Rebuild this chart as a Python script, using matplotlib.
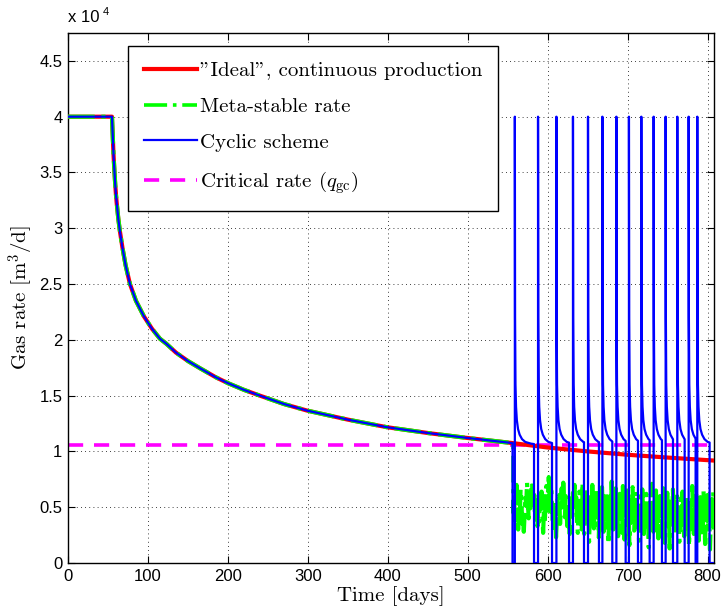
import numpy as np
import matplotlib
matplotlib.use("Agg")
import matplotlib.pyplot as plt
from matplotlib.lines import Line2D

plt.rcParams["mathtext.fontset"] = "cm"

# ---- data (rates in units of 1e4 m3/d) ----
ideal_t = [0, 55, 56, 57, 58, 59, 60, 61, 62, 63, 65, 68, 72, 77.5, 85, 95, 105, 115,
           123, 135, 150, 165, 185, 200, 220, 240, 270, 299, 350, 399, 450, 498, 557,
           600, 650, 700, 750, 808]
ideal_q = [4.0, 4.0, 3.82, 3.65, 3.52, 3.4, 3.3, 3.22, 3.15, 3.08, 2.97, 2.83, 2.67, 2.5,
           2.35, 2.21, 2.10, 2.01, 1.965, 1.886, 1.81, 1.746, 1.664, 1.612, 1.552, 1.5,
           1.425, 1.366, 1.285, 1.217, 1.165, 1.122, 1.074, 1.035, 1.0, 0.97, 0.945, 0.918]

crit_q = 1.06

# meta-stable rate after the switch, one value per day from t = 557
meta_start = 557
meta_q = [0.45, 0.62, 0.38, 0.55, 0.70, 0.48, 0.30, 0.52, 0.41, 0.66,
          0.58, 0.35, 0.47, 0.28, 0.44, 0.60, 0.51, 0.72, 0.55, 0.40,
          0.63, 0.49, 0.68, 0.57, 0.74, 0.52, 0.61, 0.39, 0.56, 0.46,
          0.33, 0.50, 0.37, 0.59, 0.45, 0.64, 0.42, 0.27, 0.48, 0.36,
          0.55, 0.69, 0.47, 0.62, 0.77, 0.58, 0.43, 0.65, 0.50, 0.38,
          0.54, 0.31, 0.46, 0.23, 0.40, 0.57, 0.44, 0.61, 0.35, 0.52,
          0.67, 0.49, 0.72, 0.56, 0.41, 0.60, 0.47, 0.33, 0.53, 0.42,
          0.26, 0.45, 0.58, 0.39, 0.63, 0.51, 0.70, 0.46, 0.59, 0.37,
          0.27, 0.47, 0.64, 0.39, 0.58, 0.30, 0.72, 0.49, 0.26, 0.61,
          0.44, 0.67, 0.37, 0.55, 0.19, 0.46, 0.63, 0.41, 0.70, 0.48,
          0.31, 0.59, 0.42, 0.66, 0.34, 0.53, 0.23, 0.45, 0.62, 0.38,
          0.68, 0.47, 0.28, 0.56, 0.43, 0.64, 0.35, 0.51, 0.17, 0.44,
          0.60, 0.39, 0.73, 0.50, 0.30, 0.57, 0.41, 0.67, 0.33, 0.54,
          0.24, 0.45, 0.62, 0.37, 0.56, 0.27, 0.69, 0.46, 0.21, 0.58,
          0.42, 0.65, 0.35, 0.53, 0.16, 0.44, 0.61, 0.38, 0.68, 0.46,
          0.29, 0.57, 0.40, 0.64, 0.32, 0.51, 0.20, 0.43, 0.60, 0.36,
          0.66, 0.45, 0.26, 0.54, 0.41, 0.62, 0.33, 0.49, 0.14, 0.42,
          0.58, 0.37, 0.71, 0.48, 0.28, 0.55, 0.39, 0.65, 0.31, 0.52,
          0.22, 0.43, 0.60, 0.35, 0.54, 0.25, 0.67, 0.44, 0.18, 0.56,
          0.40, 0.63, 0.33, 0.51, 0.13, 0.42, 0.59, 0.36, 0.66, 0.44,
          0.27, 0.55, 0.38, 0.62, 0.30, 0.49, 0.19, 0.41, 0.58, 0.34,
          0.64, 0.43, 0.24, 0.52, 0.39, 0.60, 0.31, 0.47, 0.15, 0.40,
          0.57, 0.35, 0.69, 0.46, 0.26, 0.53, 0.37, 0.63, 0.29, 0.50,
          0.20, 0.42, 0.59, 0.34, 0.52, 0.23, 0.65, 0.42, 0.17, 0.54,
          0.38, 0.61, 0.31, 0.49, 0.12, 0.40, 0.57, 0.34, 0.64, 0.30]

# cyclic scheme: re-open / shut-in times [days]
first_off = 556
cycle_on = [558.9, 587.9, 610.9, 631.6, 650.4, 668.4, 685.9, 701.6, 717.1, 732.5,
            747.5, 762.1, 776.3, 787.1]
cycle_off = [582.9, 605.4, 626.7, 645.4, 664.1, 680.8, 697.5, 712.9, 727.5, 742.9,
             756.7, 771.3, 785.0, 802.5]
# rate decay after re-opening (days after opening, rate)
decay_dt = [0, 0.3, 0.8, 1.5, 2.5, 4, 6, 9, 13, 20, 30]
decay_q = [4.0, 2.2, 1.6, 1.4, 1.28, 1.2, 1.15, 1.11, 1.085, 1.07, 1.06]

t_end = 808
scale = 1e4


def cyclic_curve():
    keep = [i for i, x in enumerate(ideal_t) if x < first_off]
    t = [ideal_t[i] for i in keep] + [first_off, first_off]
    q = [ideal_q[i] for i in keep] + [np.interp(first_off, ideal_t, ideal_q), 0]
    for on, off in zip(cycle_on, cycle_off):
        t.append(on)
        q.append(0)
        for dt, v in zip(decay_dt, decay_q):
            if dt < off - on:
                t.append(on + dt)
                q.append(v)
        t += [off, off]
        q += [np.interp(off - on, decay_dt, decay_q), 0]
    t.append(t_end)
    q.append(0)
    return np.array(t), np.array(q)


def meta_curve():
    keep = [i for i, x in enumerate(ideal_t) if x < meta_start]
    t = [ideal_t[i] for i in keep] + [meta_start]
    q = [ideal_q[i] for i in keep] + [np.interp(meta_start, ideal_t, ideal_q)]
    t += list(np.linspace(meta_start, t_end, len(meta_q)))
    q += meta_q
    return np.array(t), np.array(q)


fig = plt.figure(figsize=(7.21, 6.12), dpi=100)
ax = fig.add_axes([68 / 721, 49 / 612, 646 / 721, 530 / 612])

crit_style = (0, (4.2, 3.0))
ax.plot([0, t_end], [crit_q * scale] * 2, color="#ff00ff", lw=2.6, ls=crit_style, zorder=2)
ax.plot(np.array(ideal_t), np.array(ideal_q) * scale, color="#ff0000", lw=3.0, zorder=3)
mt, mq = meta_curve()
ax.plot(mt, mq * scale, color="#00ff00", lw=3.0, ls="-.", zorder=4)
ct, cq = cyclic_curve()
ax.plot(ct, cq * scale, color="#0000ff", lw=1.6, zorder=5)

ax.set_xlim(0, t_end)
ax.set_ylim(0, 4.75e4)
ax.set_xticks(np.arange(0, 801, 100))
ax.set_xticklabels([str(v) for v in range(0, 801, 100)], family="Liberation Sans", fontsize=12)
yt = np.arange(0, 4.51e4, 5000)
ax.set_yticks(yt)
ax.set_yticklabels(["%g" % (v / 1e4) for v in yt], family="Liberation Sans", fontsize=12)
ax.tick_params(direction="in", top=True, right=True, length=5, width=0.8, pad=4)
ax.grid(True, color="k", ls=(0, (1, 4)), lw=0.6)
for s in ax.spines.values():
    s.set_linewidth(1.0)

ax.set_xlabel("Time [days]", family="cmr10", fontsize=15, labelpad=2)
ax.set_ylabel(r"Gas rate [m$^3$/d]", family="cmr10", fontsize=15)
ax.yaxis.set_label_coords(-0.05, 0.5)

fig.text(68 / 721, 1 - 18 / 612, "x 10", family="Liberation Sans", fontsize=12, va="center")
fig.text(103 / 721, 1 - 12 / 612, "4", family="Liberation Sans", fontsize=8, va="center")

handles = [
    Line2D([], [], color="#ff0000", lw=3.0),
    Line2D([], [], color="#00ff00", lw=2.6, ls="-."),
    Line2D([], [], color="#0000ff", lw=1.6),
    Line2D([], [], color="#ff00ff", lw=2.6, ls=crit_style),
]
labels = ['"Ideal", continuous production', "Meta-stable rate", "Cyclic scheme",
          r"Critical rate ($q_{\rm gc}$)"]
leg = ax.legend(handles, labels, loc="upper left", bbox_to_anchor=(0.093, 0.975),
                prop={"family": "cmr10", "size": 15}, handlelength=2.55,
                handletextpad=0.15, labelspacing=0.82, borderpad=0.75,
                borderaxespad=0, fancybox=False, framealpha=1)
leg.get_frame().set_edgecolor("k")
leg.get_frame().set_linewidth(1.0)

fig.savefig("out.png", dpi=100)
